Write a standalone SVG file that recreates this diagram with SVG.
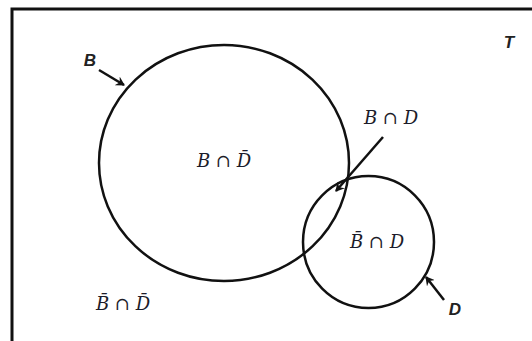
<svg xmlns="http://www.w3.org/2000/svg" width="532" height="341" viewBox="0 0 532 341">
  <style>
    .set { fill: none; stroke: #111; stroke-width: 2.5; }
    .frame { fill: none; stroke: #111; stroke-width: 3; }
    .conn { stroke: #111; stroke-width: 2.5; fill: none; }
    .math { font-family: "DejaVu Serif", "Liberation Serif", serif; font-style: italic; font-size: 18px; fill: #1c1c2a; text-anchor: middle; }
    .lbl { font-family: "Liberation Sans", Arial, sans-serif; font-style: italic; font-weight: bold; font-size: 17px; fill: #222; text-anchor: middle; }
  </style>
  <defs>
    <marker id="arr" markerWidth="10" markerHeight="10" refX="8" refY="5" orient="auto" markerUnits="userSpaceOnUse">
      <path d="M0,0 L9,5 L0,10 L3,5 Z" fill="#111"/>
    </marker>
  </defs>
  <rect width="532" height="341" fill="#fff"/>
  <rect class="frame" x="12" y="9" width="530" height="340"/>
  <g id="universe">
    <text class="lbl" x="509" y="48">T</text>
  </g>
  <g id="set-B">
    <ellipse class="set" cx="224" cy="163" rx="125" ry="118"/>
    <text class="lbl" x="90" y="66">B</text>
  </g>
  <g id="set-D">
    <ellipse class="set" cx="368.5" cy="242" rx="65.5" ry="66"/>
    <text class="lbl" x="455" y="315">D</text>
  </g>
  <g id="region-BnotD">
    <text class="math" x="224" y="167">B ∩ D̄</text>
  </g>
  <g id="region-BD">
    <text class="math" x="391" y="124">B ∩ D</text>
  </g>
  <g id="region-notBD">
    <text class="math" x="377" y="248">B̄ ∩ D</text>
  </g>
  <g id="region-notBnotD">
    <text class="math" x="123" y="310">B̄ ∩ D̄</text>
  </g>
  <g id="connectors">
    <line class="conn" x1="99" y1="70" x2="124" y2="85" marker-end="url(#arr)"/>
    <line class="conn" x1="383" y1="137" x2="336" y2="191" marker-end="url(#arr)"/>
    <line class="conn" x1="444" y1="300" x2="426" y2="277" marker-end="url(#arr)"/>
  </g>
</svg>
